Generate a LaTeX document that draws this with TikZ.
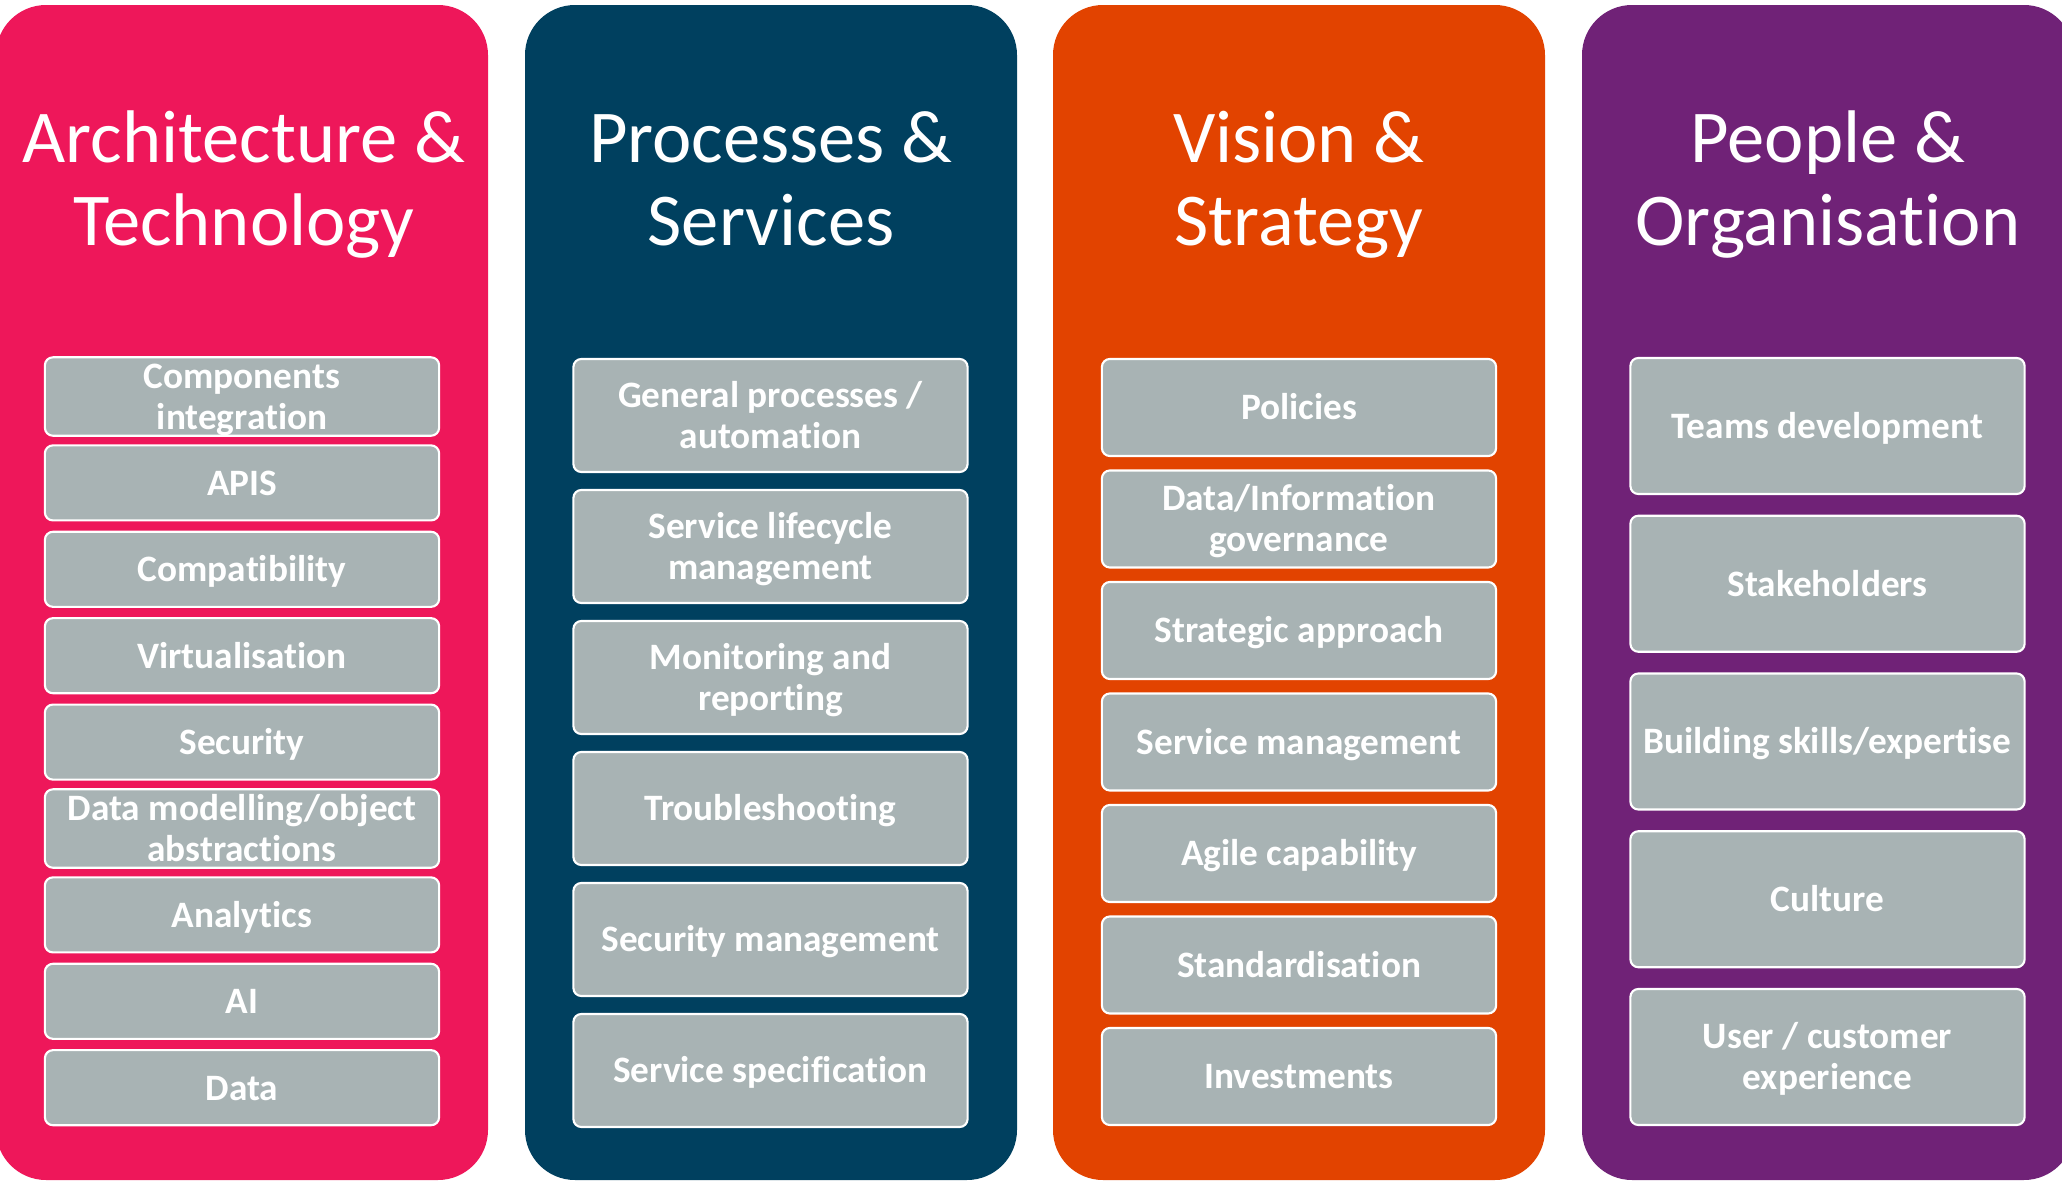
\documentclass[tikz,border=0pt]{standalone}
\usepackage{fontspec}
\setmainfont{Carlito}[Ligatures=NoCommon]

\definecolor{archpink}{HTML}{EE175A}
\definecolor{procblue}{HTML}{00405F}
\definecolor{visorange}{HTML}{E24300}
\definecolor{peoplepurple}{HTML}{702277}
\definecolor{topicgrey}{HTML}{A8B3B4}

% line box like the slide software
\newcommand\tstrut{\rule[-0.17em]{0pt}{1em}}

\tikzset{
  pillar/.style={rounded corners=0.5cm},
  pillartitle/.style={text=white, align=center, inner sep=0pt,
    font=\fontsize{21.2}{23.6}\selectfont},
  topic/.style={draw=white, line width=0.6pt, fill=topicgrey, rounded corners=0.08cm,
    text=white, align=center, inner sep=0pt, minimum width=3.94cm,
    font=\bfseries\fontsize{10.6}{11.7}\selectfont,
    execute at begin node=\tstrut, execute at end node=\tstrut}
}

\begin{document}
\begin{tikzpicture}[x=0.01cm,y=-0.01cm]

\useasboundingbox (0,0) rectangle (2062,1181);
\clip (0,0) rectangle (2062,1181);

% the four pillars
\fill[pillar,archpink] (-4,5) rectangle (488,1180);
\fill[pillar,procblue] (525,5) rectangle (1017,1180);
\fill[pillar,visorange] (1053,5) rectangle (1545,1180);
\fill[pillar,peoplepurple] (1582,5) rectangle (2074,1180);

\node[pillartitle] (archT) at (244,179) {\tstrut Architecture \&\\Technology\tstrut};
\node[pillartitle] (procT) at (771,179) {\tstrut Processes \&\\Services\tstrut};
\node[pillartitle] (visT) at (1299,179) {\tstrut Vision \&\\Strategy\tstrut};
\node[pillartitle] (peopleT) at (1828,179) {\tstrut People \&\\Organisation\tstrut};

% Architecture & Technology
\node[topic,minimum height=0.75cm] (comp) at (242,396.5) {\tstrut Components\\integration\tstrut};
\node[topic,minimum height=0.75cm] (apis) at (242,482.9) {APIS};
\node[topic,minimum height=0.75cm] (compat) at (242,569.3) {Compatibility};
\node[topic,minimum height=0.75cm] (virt) at (242,655.7) {Virtualisation};
\node[topic,minimum height=0.75cm] (secu) at (242,742.1) {Security};
\node[topic,minimum height=0.75cm] (model) at (242,828.5) {\tstrut Data modelling/object\\abstractions\tstrut};
\node[topic,minimum height=0.75cm] (analytics) at (242,914.9) {Analytics};
\node[topic,minimum height=0.75cm] (ai) at (242,1001.3) {AI};
\node[topic,minimum height=0.75cm] (data) at (242,1087.7) {Data};

% Processes & Services
\node[topic,minimum height=1.13cm] (general) at (770.5,415.5) {\tstrut General processes /\\automation\tstrut};
\node[topic,minimum height=1.13cm] (lifecycle) at (770.5,546.5) {\tstrut Service lifecycle\\management\tstrut};
\node[topic,minimum height=1.13cm] (monitor) at (770.5,677.5) {\tstrut Monitoring and\\reporting\tstrut};
\node[topic,minimum height=1.13cm] (trouble) at (770.5,808.5) {Troubleshooting};
\node[topic,minimum height=1.13cm] (secmgmt) at (770.5,939.5) {Security management};
\node[topic,minimum height=1.13cm] (spec) at (770.5,1070.5) {Service specification};

% Vision & Strategy
\node[topic,minimum height=0.97cm] (policies) at (1299,407.5) {Policies};
\node[topic,minimum height=0.97cm] (govern) at (1299,519) {\tstrut Data/Information\\governance\tstrut};
\node[topic,minimum height=0.97cm] (strat) at (1299,630.5) {Strategic approach};
\node[topic,minimum height=0.97cm] (svcmgmt) at (1299,742) {Service management};
\node[topic,minimum height=0.97cm] (agile) at (1299,853.5) {Agile capability};
\node[topic,minimum height=0.97cm] (standard) at (1299,965) {Standardisation};
\node[topic,minimum height=0.97cm] (invest) at (1299,1076.5) {Investments};

% People & Organisation
\node[topic,minimum height=1.36cm] (teams) at (1827.5,426) {Teams development};
\node[topic,minimum height=1.36cm] (stake) at (1827.5,583.75) {Stakeholders};
\node[topic,minimum height=1.36cm] (skills) at (1827.5,741.5) {Building skills/expertise};
\node[topic,minimum height=1.36cm] (culture) at (1827.5,899.25) {Culture};
\node[topic,minimum height=1.36cm] (ux) at (1827.5,1057) {\tstrut User / customer\\experience\tstrut};

\end{tikzpicture}
\end{document}
